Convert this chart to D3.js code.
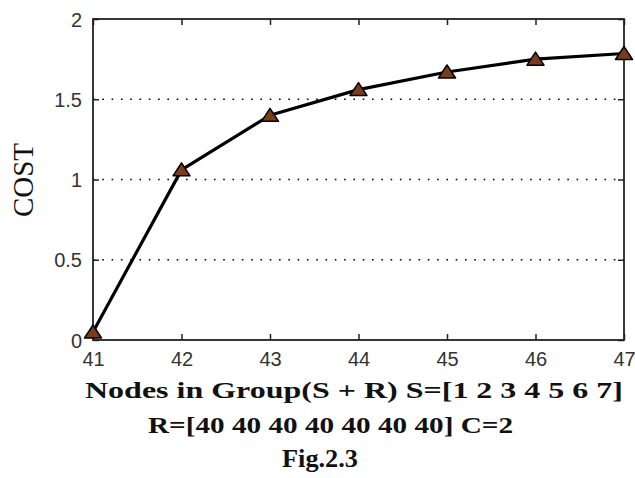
<!DOCTYPE html>
<html>
<head>
<meta charset="utf-8">
<script src="https://cdn.jsdelivr.net/npm/d3@7"></script>
<style>
  html, body { margin: 0; padding: 0; background: #fff; }
  svg { display: block; }
</style>
</head>
<body>
<div id="chart"></div>
<script>
// ---- data ----
const nodes = [41, 42, 43, 44, 45, 46, 47];
const cost = [0.05, 1.06, 1.40, 1.56, 1.67, 1.75, 1.785];
const yTicks = [0, 0.5, 1, 1.5, 2];
const yTickLabels = ["0", "0.5", "1", "1.5", "2"];
const gridValues = [0.5, 1, 1.5];
const yLabel = "COST";
const xLabelLines = ["Nodes in Group(S + R) S=[1 2 3 4 5 6 7]", "R=[40 40 40 40 40 40 40] C=2"];
const figCaption = "Fig.2.3";

// ---- layout ----
const W = 635, H = 478;
const m = { left: 93, top: 19, right: 11, bottom: 138 };
const iw = W - m.left - m.right, ih = H - m.top - m.bottom;

const svg = d3.select("#chart").append("svg").attr("width", W).attr("height", H);
const g = svg.append("g").attr("transform", `translate(${m.left},${m.top})`);

const x = d3.scaleLinear().domain([41, 47]).range([0, iw]);
const y = d3.scaleLinear().domain([0, 2]).range([ih, 0]);

// grid
g.selectAll("line.grid").data(gridValues).join("line")
  .attr("class", "grid")
  .attr("x1", 0).attr("x2", iw)
  .attr("y1", d => y(d)).attr("y2", d => y(d))
  .attr("stroke", "#000").attr("stroke-width", 1.6)
  .attr("stroke-dasharray", "1.6,7.7");

// axes
const tickFont = g => g.selectAll("text")
  .attr("font-family", "'Liberation Sans', Arial, sans-serif")
  .attr("font-size", 20).attr("fill", "#333");

const xAxis = g.append("g").attr("transform", `translate(0,${ih})`)
  .call(d3.axisBottom(x).tickValues(nodes).tickFormat(d3.format("d")).tickSizeInner(-6).tickSizeOuter(0).tickPadding(12));
xAxis.call(tickFont);
const yAxis = g.append("g")
  .call(d3.axisLeft(y).tickValues(yTicks).tickFormat((d, i) => yTickLabels[i]).tickSizeInner(-6).tickSizeOuter(0).tickPadding(11));
yAxis.call(tickFont);
yAxis.selectAll("text").attr("dy", "0.36em");
const xTop = g.append("g").call(d3.axisTop(x).tickValues(nodes).tickFormat("").tickSizeInner(-6).tickSizeOuter(0));
const yRight = g.append("g").attr("transform", `translate(${iw},0)`)
  .call(d3.axisRight(y).tickValues(yTicks).tickFormat("").tickSizeInner(-6).tickSizeOuter(0));
[xAxis, yAxis, xTop, yRight].forEach(a => {
  a.select(".domain").remove();
  a.selectAll(".tick line").attr("stroke", "#222").attr("stroke-width", 1.5);
});

// frame
g.append("rect").attr("x", 0).attr("y", 0).attr("width", iw).attr("height", ih)
  .attr("fill", "none").attr("stroke", "#222").attr("stroke-width", 1.8);

// line
const pts = nodes.map((n, i) => [n, cost[i]]);
g.append("path").datum(pts)
  .attr("fill", "none").attr("stroke", "#000").attr("stroke-width", 3.2)
  .attr("stroke-linejoin", "round")
  .attr("d", d3.line().x(d => x(d[0])).y(d => y(d[1])));

// markers (triangles)
const tri = "M0,-7 L8.5,6 L-8.5,6 Z";
g.selectAll("path.mk").data(pts).join("path")
  .attr("class", "mk")
  .attr("transform", d => `translate(${x(d[0])},${y(d[1])})`)
  .attr("d", tri)
  .attr("fill", "#7b3c1c").attr("stroke", "#000").attr("stroke-width", 1.5)
  .attr("stroke-linejoin", "round");

// y label
svg.append("text")
  .attr("transform", `translate(33,180) rotate(-90)`)
  .attr("text-anchor", "middle")
  .attr("font-family", "'Liberation Serif', 'Times New Roman', serif")
  .attr("font-size", 29).attr("fill", "#111")
  .text(yLabel);

// x label lines
const serif = "'Liberation Serif', 'Times New Roman', serif";
svg.append("text")
  .attr("x", 85).attr("y", 398)
  .attr("font-family", serif).attr("font-weight", "bold").attr("font-size", 23)
  .attr("textLength", 538).attr("lengthAdjust", "spacingAndGlyphs")
  .attr("fill", "#111")
  .text(xLabelLines[0]);
svg.append("text")
  .attr("x", 148).attr("y", 433)
  .attr("font-family", serif).attr("font-weight", "bold").attr("font-size", 23)
  .attr("textLength", 365).attr("lengthAdjust", "spacingAndGlyphs")
  .attr("fill", "#111")
  .text(xLabelLines[1]);
svg.append("text")
  .attr("x", 282).attr("y", 467)
  .attr("font-family", serif).attr("font-weight", "bold").attr("font-size", 26)
  .attr("textLength", 76).attr("lengthAdjust", "spacingAndGlyphs")
  .attr("fill", "#111")
  .text(figCaption);
</script>
</body>
</html>
